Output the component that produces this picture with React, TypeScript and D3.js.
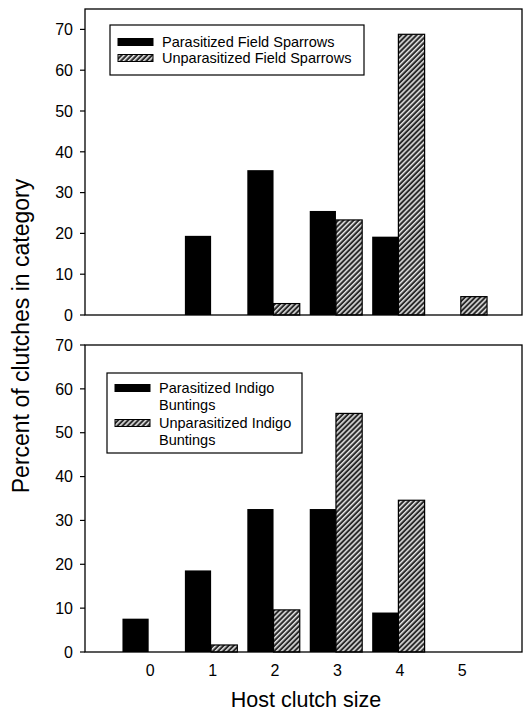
import React from "react";
import * as d3 from "d3";

const categories = [0, 1, 2, 3, 4, 5];
const fieldParasitized = [0, 19.4, 35.5, 25.5, 19.2, 0];
const fieldUnparasitized = [0, 0, 2.8, 23.3, 68.8, 4.5];
const indigoParasitized = [7.6, 18.6, 32.6, 32.6, 9.0, 0];
const indigoUnparasitized = [0, 1.6, 9.6, 54.4, 34.6, 0];
const yTicks = [0, 10, 20, 30, 40, 50, 60, 70];
const topLegend = [["Parasitized Field Sparrows"], ["Unparasitized Field Sparrows"]];
const bottomLegend = [["Parasitized Indigo", "Buntings"], ["Unparasitized Indigo", "Buntings"]];

const FONT = "'Liberation Sans', Arial, sans-serif";
const LEFT = 85;
const RIGHT = 522;

const x = d3.scaleLinear().domain([-1.02, 5.98]).range([LEFT, RIGHT]);
const step = x(1) - x(0);
const barW = step * 0.42;

function Panel({ top, bottom, yMax, parasitized, unparasitized, legend, legendBox, showX }) {
  const y = d3.scaleLinear().domain([0, yMax]).range([bottom, top]);
  return (
    <g>
      {categories.map((c, i) =>
        parasitized[i] > 0 ? (
          <rect key={"p" + c} x={x(c) - barW} y={y(parasitized[i])} width={barW} height={y(0) - y(parasitized[i])} fill="#000" />
        ) : null
      )}
      {categories.map((c, i) =>
        unparasitized[i] > 0 ? (
          <rect key={"u" + c} x={x(c)} y={y(unparasitized[i])} width={barW} height={y(0) - y(unparasitized[i])} fill="url(#hatch)" stroke="#000" strokeWidth={1.2} />
        ) : null
      )}
      <rect x={LEFT} y={top} width={RIGHT - LEFT} height={bottom - top} fill="none" stroke="#000" strokeWidth={1.3} />
      {yTicks.map((t) => (
        <g key={t}>
          <line x1={LEFT - 5} x2={LEFT} y1={y(t)} y2={y(t)} stroke="#000" strokeWidth={1.2} />
          <text x={LEFT - 12} y={y(t)} dy="0.36em" textAnchor="end" fontSize={16} fontFamily={FONT}>{t}</text>
        </g>
      ))}
      {showX &&
        categories.map((c) => (
          <text key={c} x={x(c) + 1.5} y={bottom + 24} textAnchor="middle" fontSize={16} fontFamily={FONT}>{c}</text>
        ))}
      <rect x={legendBox.x} y={legendBox.y} width={legendBox.w} height={legendBox.h} fill="#fff" stroke="#000" strokeWidth={1.2} />
      {legend.map((lines, i) => {
        const rowY = legendBox.y + legendBox.firstRow + i * legendBox.rowGap;
        return (
          <g key={i}>
            <rect x={legendBox.x + 8} y={rowY - 3.5} width={35} height={7} fill={i === 0 ? "#000" : "url(#hatch)"} stroke="#000" strokeWidth={1} />
            {lines.map((ln, j) => (
              <text key={j} x={legendBox.x + 52} y={rowY + j * 17} dy="0.36em" fontSize={14.5} fontFamily={FONT}>{ln}</text>
            ))}
          </g>
        );
      })}
    </g>
  );
}

export default function App() {
  return (
    <svg width={524} height={717} style={{ position: "absolute", left: 0, top: 0, background: "#fff" }}>
      <defs>
        <pattern id="hatch" patternUnits="userSpaceOnUse" width={3.6} height={3.6} patternTransform="rotate(45)">
          <rect width={3.6} height={3.6} fill="#2a2a2a" />
          <rect width={1.5} height={3.6} fill="#e8e8e8" />
        </pattern>
      </defs>
      <rect width={524} height={717} fill="#fff" />
      <Panel top={9} bottom={315} yMax={75} parasitized={fieldParasitized} unparasitized={fieldUnparasitized}
        legend={topLegend} legendBox={{ x: 110, y: 25, w: 254, h: 50, firstRow: 17, rowGap: 16 }} showX={false} />
      <Panel top={345} bottom={652} yMax={70} parasitized={indigoParasitized} unparasitized={indigoUnparasitized}
        legend={bottomLegend} legendBox={{ x: 107, y: 373, w: 195, h: 80, firstRow: 15, rowGap: 35 }} showX={true} />
      <text transform="translate(21,336) rotate(-90)" dy="0.36em" textAnchor="middle" fontSize={23} fontFamily={FONT}>Percent of clutches in category</text>
      <text x={306} y={707} textAnchor="middle" fontSize={21.5} fontFamily={FONT}>Host clutch size</text>
    </svg>
  );
}
